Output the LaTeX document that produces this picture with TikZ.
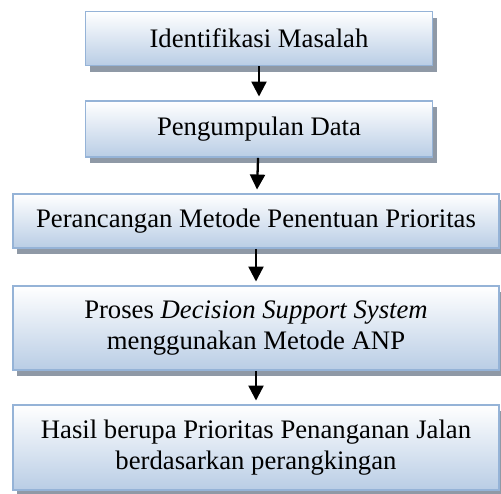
\documentclass[tikz,border=0pt]{standalone}
\usepackage{fontspec}
\setmainfont{Liberation Serif}
\usetikzlibrary{arrows.meta,shadows}
\definecolor{BoxLine}{HTML}{95B3D7}
\definecolor{BoxBlue}{HTML}{B9CDE5}
\definecolor{Shade}{HTML}{8F99A6}

\begin{document}
\begin{tikzpicture}[font=\fontsize{15.2}{17.5}\selectfont,>={Triangle[width=0.3cm,length=0.3cm]},
    stepbox/.style={draw=BoxLine,line width=1.1pt,top color=white,bottom color=BoxBlue,align=center,inner sep=0pt,
      drop shadow={shadow xshift=0.08cm,shadow yshift=-0.12cm,fill=Shade,opacity=1}}]
      \useasboundingbox (0,0) rectangle (10.02,-9.86);
      \node[stepbox,minimum width=6.94cm,minimum height=1.08cm] (ident) at (5.18,-0.77) {Identifikasi Masalah};
      \node[stepbox,minimum width=6.94cm,minimum height=1.12cm] (kumpul) at (5.18,-2.58) {Pengumpulan Data};
      \node[stepbox,minimum width=9.72cm,minimum height=1.08cm] (rancang) at (5.12,-4.42) {Perancangan Metode Penentuan Prioritas};
      \node[stepbox,minimum width=9.72cm,minimum height=1.68cm] (proses) at (5.12,-6.56) {Proses \textit{Decision Support System}\\menggunakan Metode ANP};
      \node[stepbox,minimum width=9.72cm,minimum height=1.7cm] (hasil) at (5.12,-8.95) {Hasil berupa Prioritas Penanganan Jalan\\berdasarkan perangkingan};
      \draw[->,line width=1.3pt,shorten >=2pt] (ident) -- (kumpul);
      \draw[->,line width=1.3pt,shorten >=2pt] (kumpul) -- (rancang);
      \draw[->,line width=1.3pt,shorten >=2pt] (rancang) -- (proses);
      \draw[->,line width=1.3pt,shorten >=2pt] (proses) -- (hasil);
    \end{tikzpicture}
\end{document}
